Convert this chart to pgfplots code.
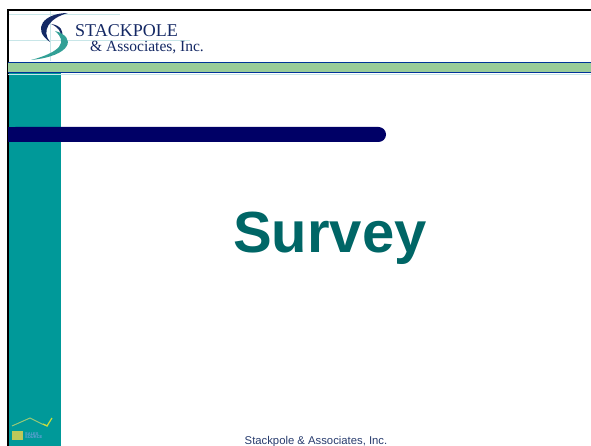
\documentclass[border=0pt]{standalone}
\usepackage{pgfplots}
\pgfplotsset{compat=1.18}
\usepackage{fontspec}
\setmainfont{Liberation Sans}
\newfontfamily\serifl{Liberation Serif}
\definecolor{tealside}{RGB}{0,153,153}
\definecolor{tealtxt}{RGB}{0,102,102}
\definecolor{navybar}{RGB}{0,0,102}
\definecolor{bandblue}{RGB}{0,51,153}
\definecolor{bandgreen}{RGB}{153,204,153}
\definecolor{logonavy}{RGB}{20,40,100}
\definecolor{logoteal}{RGB}{50,160,150}
\definecolor{gridl}{RGB}{200,230,232}
\definecolor{foot}{RGB}{40,60,110}
\begin{document}
\begin{tikzpicture}
\begin{axis}[
  scale only axis, width=591pt, height=446pt,
  xmin=0, xmax=591, ymin=0, ymax=446, y dir=reverse,
  hide axis, clip=true,
]
% teal sidebar
\addplot[fill=tealside, draw=none] coordinates {(8,73) (61,73) (61,446) (8,446)} --cycle;
% faint grid lines around logo
\addplot[gridl, line width=0.6pt] coordinates {(8,14.5) (120,14.5)};
\addplot[gridl, line width=0.6pt] coordinates {(8,40) (190,40)};
\addplot[gridl, line width=0.6pt] coordinates {(50,10) (50,61)};
% top and left border
\addplot[black, line width=2pt] coordinates {(7.5,446) (7.5,10) (591,10)};
% blue/green band
\addplot[fill=bandgreen, draw=none] coordinates {(8,62.5) (591,62.5) (591,72.5) (8,72.5)} --cycle;
\addplot[bandblue, line width=1.4pt] coordinates {(8,62.3) (591,62.3)};
\addplot[bandblue, line width=1.4pt] coordinates {(8,72.3) (591,72.3)};
\addplot[gridl, line width=0.6pt] coordinates {(8,74) (591,74)};
% navy bar
\fill[navybar, rounded corners=7.5pt] (axis cs:8,127) rectangle (axis cs:386,142);
\fill[navybar] (axis cs:8,127) rectangle (axis cs:30,142);
% logo swirl
\fill[logonavy] (axis cs:68,13) .. controls (axis cs:44,13) and (axis cs:31,29) .. (axis cs:50,42)
  .. controls (axis cs:41,31) and (axis cs:49,18) .. (axis cs:68,13) -- cycle;
\fill[logonavy] (axis cs:51,24) .. controls (axis cs:60,25) and (axis cs:65,31) .. (axis cs:61,38)
  .. controls (axis cs:62,32) and (axis cs:58,27) .. (axis cs:51,24) -- cycle;
\fill[logoteal] (axis cs:55,31) .. controls (axis cs:77,37) and (axis cs:72,56) .. (axis cs:31,60)
  .. controls (axis cs:61,52) and (axis cs:68,42) .. (axis cs:55,31) -- cycle;
\node[anchor=base west, inner sep=0pt, text=logonavy, font=\serifl\fontsize{18}{18}\selectfont] at (axis cs:75,37) {STACKPOLE};
\node[anchor=base west, inner sep=0pt, text=logonavy, font=\serifl\fontsize{15.5}{15.5}\selectfont] at (axis cs:90,52) {\& Associates, Inc.};
% sales source logo
\addplot[color={rgb,255:red,150;green,200;blue,120}, line width=1pt] coordinates {(12,426) (30,418) (42,424) (48,426)};
\addplot[color={rgb,255:red,200;green,220;blue,60}, line width=1.2pt] coordinates {(43,424) (47,426) (52,418)};
\addplot[fill={rgb,255:red,190;green,200;blue,90}, draw=none] coordinates {(12,431) (23,431) (23,440) (12,440)} --cycle;
\node[anchor=west, inner sep=0pt, text={rgb,255:red,110;green,160;blue,220}, font=\bfseries\fontsize{4}{4}\selectfont, align=left] at (axis cs:25,435.5) {SALES\\[-0.5pt]SOURCE};
% title
\node[anchor=base, inner sep=0pt, text=tealtxt, font=\bfseries\fontsize{58}{58}\selectfont] at (axis cs:330,252) {Survey};
% footer
\node[anchor=base, inner sep=0pt, text=foot, font=\fontsize{11.3}{11.3}\selectfont] at (axis cs:316,444) {Stackpole \& Associates, Inc.};
\end{axis}
\pgfresetboundingbox
\path (current axis.south west) rectangle (current axis.north east);
\end{tikzpicture}
\end{document}
